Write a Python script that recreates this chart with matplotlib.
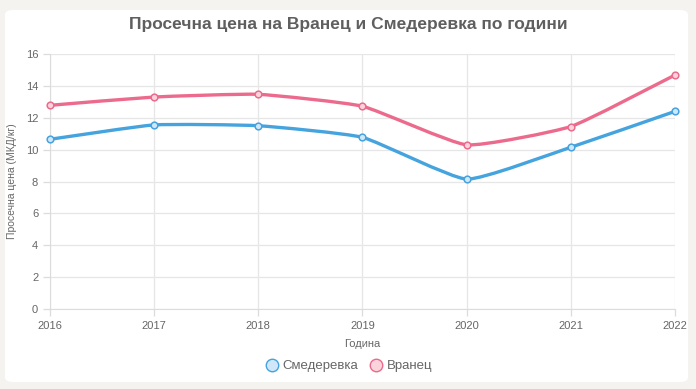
import numpy as np
import matplotlib
matplotlib.use("Agg")
import matplotlib.pyplot as plt
from matplotlib.path import Path
from matplotlib.patches import PathPatch, FancyBboxPatch
from matplotlib.lines import Line2D

plt.rcParams['font.family'] = ['Liberation Sans', 'DejaVu Sans']

years = [2016, 2017, 2018, 2019, 2020, 2021, 2022]
smederevka = [10.65, 11.55, 11.5, 10.77, 8.15, 10.15, 12.4]
vranec = [12.78, 13.3, 13.47, 12.72, 10.3, 11.45, 14.68]

blue = '#45a3de'
pink = '#ec6a8b'
blue_fill = '#cfe7f8'
pink_fill = '#fbd3dc'


def smooth_path(ax, xs, ys, tension=0.15):
    # Chart.js style cubic bezier, control points computed in pixel space
    pts = ax.transData.transform(np.column_stack([xs, ys]))
    n = len(pts)
    verts = [pts[0]]
    codes = [Path.MOVETO]
    cps = []
    for i in range(n):
        prev = pts[max(i - 1, 0)]
        cur = pts[i]
        nxt = pts[min(i + 1, n - 1)]
        d01 = np.hypot(*(cur - prev))
        d12 = np.hypot(*(nxt - cur))
        tot = d01 + d12
        s01 = d01 / tot if tot else 0
        s12 = d12 / tot if tot else 0
        fa = tension * s01
        fb = tension * s12
        cps.append((cur - fa * (nxt - prev), cur + fb * (nxt - prev)))
    for i in range(1, n):
        verts += [cps[i - 1][1], cps[i][0], pts[i]]
        codes += [Path.CURVE4] * 3
    inv = ax.transData.inverted()
    return Path(inv.transform(np.array(verts)), codes)


fig = plt.figure(figsize=(6.96, 3.89), dpi=100)
fig.patch.set_facecolor('#f5f3f0')
card = FancyBboxPatch((5 / 696, 7 / 389), 683 / 696, 372 / 389,
                      boxstyle='round,pad=0,rounding_size=0.012',
                      transform=fig.transFigure, facecolor='white',
                      edgecolor='none', zorder=-10)
fig.patches.append(card)

ax = fig.add_axes([50 / 696, 80 / 389, 625 / 696, 255 / 389])
ax.set_facecolor('none')
ax.set_xlim(2016, 2022)
ax.set_ylim(0, 16)
ax.set_xticks(years)
ax.set_yticks(range(0, 17, 2))
ax.grid(True, color='#e6e6e6', linewidth=0.9)
ax.set_axisbelow(True)
for s in ax.spines.values():
    s.set_visible(False)
ax.spines['left'].set_visible(True)
ax.spines['bottom'].set_visible(True)
ax.spines['left'].set_color('#dcdcdc')
ax.spines['bottom'].set_color('#dcdcdc')
ax.tick_params(colors='#dcdcdc', labelcolor='#666666', labelsize=8, length=5, width=0.9)

fig.canvas.draw()
for ys, col, fill in [(smederevka, blue, blue_fill), (vranec, pink, pink_fill)]:
    p = smooth_path(ax, years, ys)
    ax.add_patch(PathPatch(p, facecolor='none', edgecolor=col, linewidth=2.4,
                           clip_on=False, zorder=3, capstyle='round', joinstyle='round'))
    ax.plot(years, ys, linestyle='none', marker='o', markersize=4.8,
            markerfacecolor=fill, markeredgecolor=col, markeredgewidth=1.1,
            clip_on=False, zorder=4)

ax.set_xlabel('Година', fontsize=8, color='#666666', labelpad=6)
ax.set_ylabel('Просечна цена (МКД/кг)', fontsize=7.5, color='#666666', labelpad=6)

fig.text(0.5, 1 - 25 / 389, 'Просечна цена на Вранец и Смедеревка по години',
         ha='center', va='center', fontsize=12.5, fontweight='bold', color='#5f5f5f')

handles = [Line2D([], [], linestyle='none', marker='o', markersize=9,
                  markerfacecolor=blue_fill, markeredgecolor=blue, markeredgewidth=1.0,
                  label='Смедеревка'),
           Line2D([], [], linestyle='none', marker='o', markersize=9,
                  markerfacecolor=pink_fill, markeredgecolor=pink, markeredgewidth=1.0,
                  label='Вранец')]
leg = fig.legend(handles=handles, loc='center', bbox_to_anchor=(0.5, 1 - 366 / 389),
                 ncol=2, frameon=False, fontsize=9.5, handletextpad=0.2,
                 columnspacing=0.8, handlelength=1.2)
for t in leg.get_texts():
    t.set_color('#666666')

fig.savefig('out.png', dpi=100, facecolor=fig.get_facecolor())
